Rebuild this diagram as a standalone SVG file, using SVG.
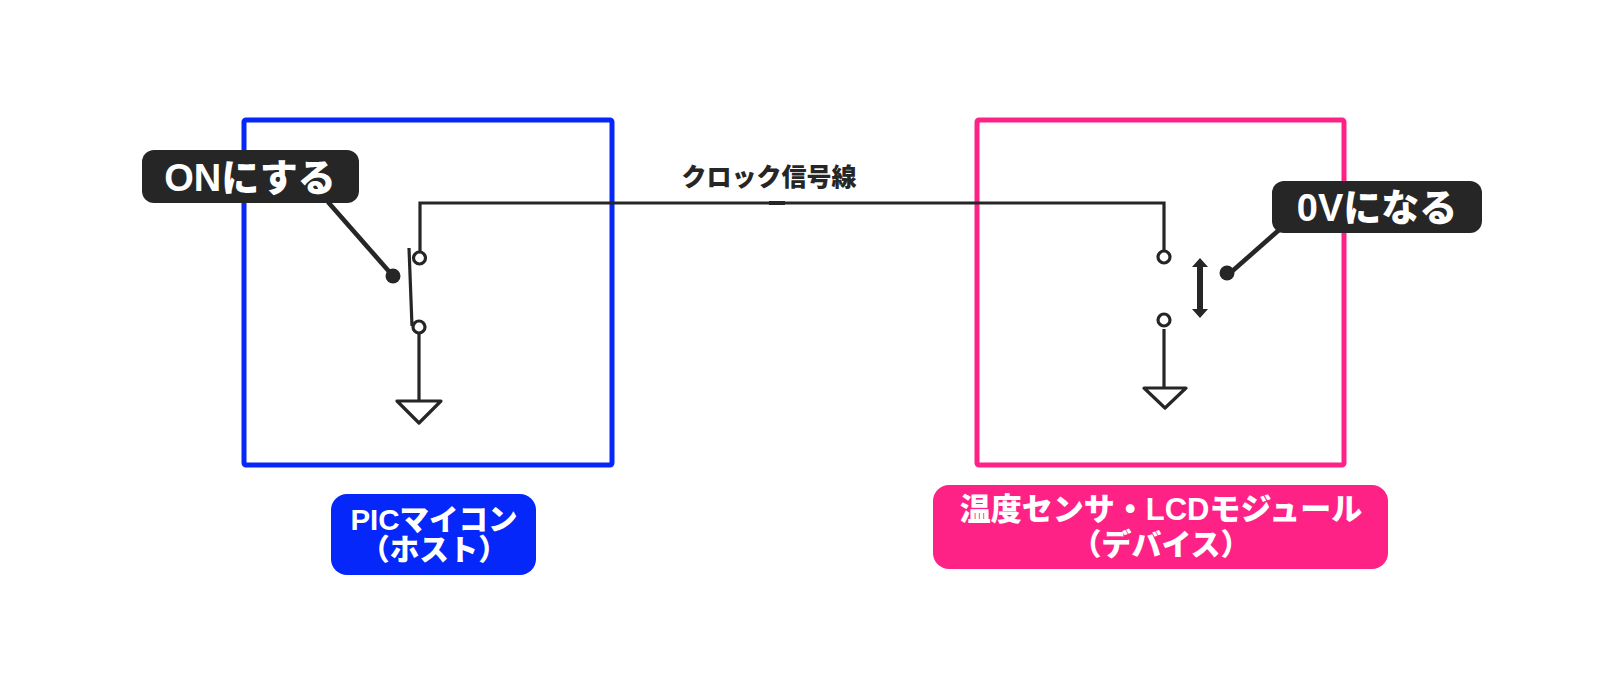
<svg xmlns="http://www.w3.org/2000/svg" width="1624" height="696" viewBox="0 0 1624 696">
<style>
text{font-family:"Liberation Sans","Noto Sans CJK JP",sans-serif;font-weight:900;text-anchor:middle}
.w{stroke:#262626;stroke-width:3.2;fill:none}
.t{stroke:#262626;stroke-width:3.2;fill:#fff;stroke-linejoin:round}
.c{stroke:#262626;stroke-width:3.2;fill:#fff}
.lead{stroke:#262626;stroke-width:4.6;fill:none}
.dot{fill:#262626}
.tag{fill:#262626;stroke:none}
.tagt{fill:#fff;font-size:38px}
.lbl{fill:#fff;font-size:29.500px}
</style>
<rect width="1624" height="696" fill="#fff"/>
<g id="host-box"><rect x="244" y="120" width="368" height="345" rx="2" fill="none" stroke="#0527fa" stroke-width="5"/></g>
<g id="device-box"><rect x="977" y="120" width="367" height="345" rx="2" fill="none" stroke="#fe2287" stroke-width="5"/></g>
<g id="connectors">
<path class="w" d="M420 251V203H1164V250"/>
<path d="M769 203H785" stroke="#262626" stroke-width="4" fill="none"/>
<path class="w" d="M409 248L412 326"/>
<path class="w" d="M419 334V402"/>
<path class="w" d="M1164 329V389"/>
<path class="lead" d="M328 202L393 276"/>
<path class="lead" d="M1229 274L1279 230"/>
<path d="M1200 258L1208 267H1203V309H1208L1200 318L1192 309H1197V267H1192Z" fill="#262626"/>
</g>
<g id="host-switch">
<circle class="c" cx="419.500" cy="258" r="6"/>
<circle class="c" cx="419" cy="327" r="6"/>
<circle class="dot" cx="393" cy="276" r="7.500"/>
<path class="t" d="M397 401H441L419 423Z"/>
</g>
<g id="device-switch">
<circle class="c" cx="1164" cy="257" r="6"/>
<circle class="c" cx="1164" cy="320" r="6"/>
<circle class="dot" cx="1227" cy="273" r="7.500"/>
<path class="t" d="M1144 388H1186L1165 408Z"/>
</g>
<g id="clock-label"><text x="769" y="186" font-size="25" fill="#262626">クロック信号線</text></g>
<g id="on-tag"><rect class="tag" x="142" y="150" width="217" height="53" rx="12"/><text class="tagt" x="250" y="191">ONにする</text></g>
<g id="zero-tag"><rect class="tag" x="1272" y="181" width="210" height="52" rx="12"/><text class="tagt" x="1377" y="221">0Vになる</text></g>
<g id="host-label"><rect x="331" y="494" width="205" height="81" rx="16" fill="#0527fa"/><text class="lbl" x="434" y="530">PICマイコン<tspan x="434" y="560">（ホスト）</tspan></text></g>
<g id="device-label"><rect x="933" y="485" width="455" height="84" rx="16" fill="#fe2287"/><text class="lbl" x="1161" y="520" font-size="31" style="font-size:31px">温度センサ・LCDモジュール<tspan x="1161" y="555" style="font-size:30px">（デバイス）</tspan></text></g>
</svg>
